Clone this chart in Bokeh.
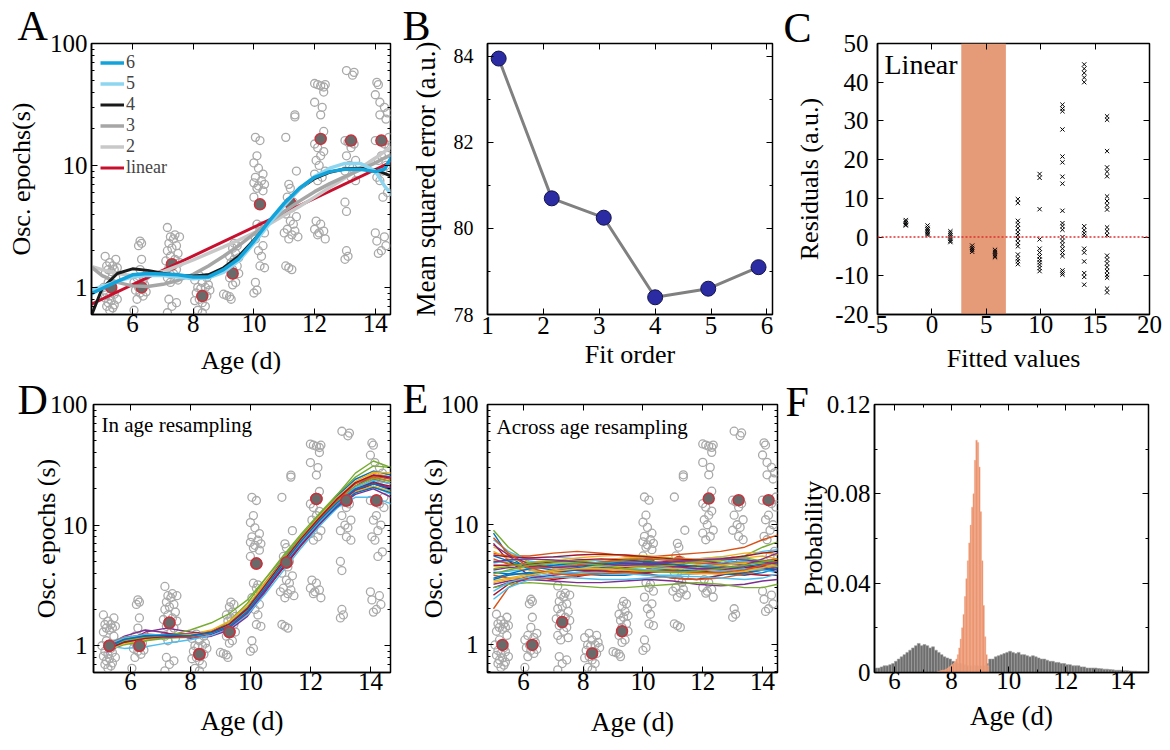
import math
import numpy as np
from bokeh.plotting import figure
from bokeh.models import (Range1d, FixedTicker, LinearAxis, Label, Span, BoxAnnotation,
                          Legend, LegendItem, BasicTickFormatter, CustomJSTickFormatter)
from bokeh.layouts import row, column
from bokeh.embed import file_html
from bokeh.resources import INLINE

FONT = "Liberation Serif"
MATLAB = ["#0072BD", "#D95319", "#EDB120", "#7E2F8E", "#77AC30", "#4DBEEE", "#A2142F"]

# ---------------- shared scatter data (age, oscillation epochs) ----------------
g1_x = [5.1, 5.45, 5.25, 5.35, 5.15, 5.5, 5.2, 5.4, 5.3, 5.1, 5.45, 5.2, 5.05, 5.35, 5.15, 5.4, 5.25, 5.1, 5.5, 5.3, 5.2, 5.4, 5.15, 5.35, 5.25]
g1_y = [1.8, 1.7, 1.6, 1.5, 1.5, 1.45, 1.4, 1.4, 1.35, 1.3, 1.2, 1.1, 1.0, 0.95, 0.9, 0.88, 0.85, 0.82, 0.8, 0.78, 0.75, 0.72, 0.7, 0.68, 0.65]
g2_x = [6.25, 6.3, 6.2, 6.3, 6.25, 6.45, 6.15, 6.35, 6.05, 6.4, 6.2, 6.3, 6.1, 6.45, 6.25, 6.35, 6.15, 6.05]
g2_y = [2.4, 2.3, 2.2, 1.7, 1.4, 1.25, 1.2, 1.15, 1.1, 1.05, 1.0, 0.98, 0.95, 0.92, 0.9, 0.85, 0.8, 0.65]
g3_x = [7.15, 7.4, 7.25, 7.55, 7.35, 7.2, 7.45, 7.3, 7.15, 7.5, 7.25, 7.4, 7.1, 7.55, 7.3, 7.2, 7.45, 7.35, 7.15, 7.5, 7.25, 7.2, 7.45, 7.3, 7.15]
g3_y = [3.1, 2.7, 2.6, 2.6, 2.5, 2.3, 2.2, 2.1, 2.0, 1.9, 1.8, 1.7, 1.65, 1.6, 1.5, 1.45, 1.4, 1.3, 1.2, 1.15, 1.1, 0.8, 0.75, 0.7, 0.62]
g4_x = [8.2, 8.45, 8.05, 8.3, 8.5, 8.15, 8.4, 8.25, 8.55, 8.1, 8.35, 8.45, 8.2, 8.05, 8.3, 8.4, 8.15, 8.3]
g4_y = [1.25, 1.2, 1.15, 1.1, 1.05, 1.0, 1.0, 0.98, 0.95, 0.9, 0.88, 0.85, 0.8, 0.78, 0.75, 0.7, 0.65, 0.62]
g5_x = [9.35, 9.45, 9.3, 9.4, 9.2, 9.5, 9.35, 9.25, 9.45, 9.3, 9.5, 9.2, 9.4, 9.3, 9.0, 9.1, 9.2, 9.25]
g5_y = [2.3, 2.2, 2.1, 1.9, 1.8, 1.75, 1.7, 1.6, 1.5, 1.4, 1.3, 1.2, 1.1, 1.05, 0.88, 0.86, 0.84, 0.8]
g6_x = [10.05, 10.2, 10.1, 10.0, 10.15, 10.3, 10.05, 10.25, 10.0, 10.35, 10.15, 10.1, 10.3, 10.0, 10.1, 10.25, 10.2, 10.35, 10.05, 10.3, 10.15, 10.25, 10.2, 10.35, 10.05, 10.1, 10.0]
g6_y = [17, 16, 12, 10.5, 9.5, 8.5, 8, 7.5, 7.2, 7, 6.8, 6.5, 6.2, 5.5, 3.3, 3.2, 3.0, 2.8, 2.5, 2.2, 2.0, 1.8, 1.5, 1.45, 1.1, 0.95, 0.9]
g7_x = [11.35, 11.35, 11.05, 11.4, 11.15, 11.2, 11.1, 11.3, 11.25, 11.05, 11.4, 11.2, 11.3, 11.1, 11.35, 11.0, 11.25, 11.45, 11.15, 11.05, 11.15, 11.25]
g7_y = [26, 25, 17, 9, 7, 6.5, 5.5, 5.0, 4.5, 4.0, 3.8, 3.5, 3.3, 3.0, 2.9, 2.8, 2.7, 2.6, 2.5, 1.5, 1.45, 1.4]
g8_x = [12.0, 12.1, 12.2, 12.3, 12.35, 12.3, 12.0, 12.25, 12.2, 12.3, 12.0, 12.1, 12.3, 12.2, 12.05, 12.15, 12.35, 12.0, 12.25, 12.1, 12.05, 12.2, 12.0, 12.3, 12.15, 12.1, 12.35]
g8_y = [47, 46, 45, 44, 46, 40, 33, 30, 26, 19, 15, 14, 13, 12, 11, 10, 9, 8.5, 8, 7.5, 3.5, 3.3, 3.0, 2.9, 2.8, 2.7, 2.5]
g9_x = [13.05, 13.3, 13.25, 13.0, 13.1, 13.3, 13.2, 13.05, 13.35, 13.15, 13.25, 13.0, 13.2, 13.35, 13.0, 13.05, 13.05, 13.1, 13.0]
g9_y = [60, 58, 55, 16, 15.5, 15, 14, 12, 11, 10, 9.5, 9, 8, 7.5, 5, 4.2, 2.0, 1.8, 1.7]
g10_x = [14.05, 14.1, 14.0, 14.15, 14.3, 14.4, 14.15, 14.35, 14.45, 14.0, 14.3, 14.45, 14.2, 14.1, 14.35, 14.25, 14.05, 14.15, 14.4, 14.25, 14.0, 14.3, 14.05, 14.35, 14.2, 14.1]
g10_y = [48, 46, 38, 33, 30, 27, 26, 24, 17, 16, 15, 14, 12, 11, 10, 9, 8, 7.5, 6, 5.5, 2.8, 2.6, 2.4, 2.2, 2.0, 1.9]

mean_age = [5.3, 6.3, 7.3, 8.3, 9.3, 10.2, 11.2, 12.2, 13.2, 14.2]
mean_val = [1.0, 1.0, 1.55, 0.85, 1.3, 4.8, 4.9, 16.5, 16.0, 16.0]

pts_x = g1_x + g2_x + g3_x + g4_x + g5_x + g6_x + g7_x + g8_x + g9_x + g10_x
pts_y = g1_y + g2_y + g3_y + g4_y + g5_y + g6_y + g7_y + g8_y + g9_y + g10_y

# ---------------- panel A fits ----------------
fit_x = [4.6, 5.0, 5.5, 6.0, 6.5, 7.0, 7.5, 8.0, 8.5, 9.0, 9.5, 10.0, 10.5, 11.0, 11.5, 12.0, 12.5, 13.0, 13.5, 14.0, 14.3, 14.6]
fit6 = [0.88, 0.98, 1.12, 1.27, 1.30, 1.29, 1.27, 1.22, 1.22, 1.40, 1.72, 2.4, 3.5, 4.9, 6.5, 8.0, 8.9, 9.3, 9.3, 8.9, 9.3, 12.5]
fit5 = [0.95, 1.02, 1.12, 1.22, 1.26, 1.25, 1.22, 1.18, 1.2, 1.33, 1.65, 2.3, 3.3, 4.7, 6.4, 8.1, 9.5, 10.4, 10.4, 9.0, 6.8, 5.5]
fit4 = [0.55, 0.98, 1.30, 1.42, 1.38, 1.31, 1.26, 1.24, 1.27, 1.45, 1.80, 2.45, 3.4, 4.8, 6.4, 7.8, 8.8, 9.4, 9.5, 9.2, 8.6, 8.0]
fit3 = [1.5, 1.25, 1.1, 1.03, 1.02, 1.06, 1.14, 1.28, 1.5, 1.8, 2.2, 2.75, 3.4, 4.2, 5.1, 6.1, 7.1, 8.1, 9.2, 10.5, 11.5, 12.5]
fit2 = [1.5, 1.4, 1.3, 1.25, 1.27, 1.35, 1.5, 1.68, 1.9, 2.15, 2.45, 2.8, 3.3, 3.9, 4.6, 5.5, 6.6, 7.9, 9.5, 11.5, 13.0, 14.5]
lin_x = [4.6, 14.6]
lin_y = [0.72, 10.9]

# ---------------- panel B ----------------
order = [1.2, 2.15, 3.08, 4.0, 4.95, 5.85]
mse = [83.95, 80.7, 80.25, 78.4, 78.6, 79.1]

# ---------------- panel C residuals ----------------
res_groups_x = [-2.4, -0.4, 1.7, 3.7, 5.8, 7.9, 9.9, 12.0, 14.0, 16.1]
res_groups = [
    [4.4, 4.0, 3.6, 3.2, 3.0],
    [3.0, 2.4, 2.0, 1.6, 1.2, 0.8, 0.5],
    [1.5, 1.0, 0.5, 0.0, -0.5, -1.0, -1.3],
    [-2.2, -2.8, -3.3, -3.8],
    [-3.3, -3.8, -4.3, -4.8, -5.2],
    [9.8, 8.8, 4.2, 3.3, 2.3, 1.3, 0.5, -0.5, -1.5, -2.4, -4.5, -5.5, -6.2, -7.0],
    [16.3, 15.3, 7.2, -0.6, -3.0, -4.0, -5.0, -5.8, -6.5, -7.2, -8.0, -8.8],
    [34.2, 33.2, 32.5, 27.8, 20.8, 19.3, 15.6, 13.8, 6.8, 3.6, 2.8, 1.9, 0.0, -1.0, -2.0, -3.0, -4.0, -4.9, -8.6, -9.2, -9.7],
    [44.6, 43.5, 42.4, 41.2, 40.0, 2.8, 1.8, 1.0, 0.3, -3.0, -4.0, -6.3, -9.3, -10.3, -12.3],
    [31.2, 30.3, 22.2, 18.0, 16.9, 15.7, 10.5, 9.3, 8.2, 7.1, 2.5, 1.5, 0.5, -4.8, -5.8, -6.8, -7.8, -8.8, -9.8, -10.5, -13.3, -14.3],
]
band_left, band_right = 2.7, 6.8

# ---------------- panel D in-age resampling fits ----------------
D_x = [5.2, 5.8, 6.5, 7.2, 8.0, 8.7, 9.3, 9.9, 10.5, 11.1, 11.7, 12.3, 12.9, 13.5, 14.1, 14.7]
D_curves = [
    [0.95, 1.10, 1.18, 1.20, 1.20, 1.28, 1.45, 1.95, 3.2, 5.0, 7.6, 11.0, 15.5, 20, 23, 20],
    [0.98, 1.15, 1.25, 1.22, 1.18, 1.25, 1.40, 1.85, 3.0, 4.7, 7.2, 10.5, 15.0, 20, 24, 22],
    [0.92, 1.05, 1.12, 1.17, 1.22, 1.33, 1.55, 2.10, 3.4, 5.3, 8.0, 11.5, 16.5, 22, 27, 25],
    [1.00, 1.20, 1.35, 1.28, 1.15, 1.20, 1.35, 1.75, 2.8, 4.5, 7.0, 10.2, 14.0, 18, 20, 17],
    [0.90, 1.02, 1.10, 1.15, 1.18, 1.30, 1.60, 2.25, 3.6, 5.6, 8.5, 12.5, 18.0, 25, 31, 30],
    [1.05, 1.18, 1.22, 1.20, 1.22, 1.30, 1.50, 2.00, 3.1, 4.8, 7.4, 10.8, 15.0, 19, 21, 18],
    [0.95, 1.12, 1.20, 1.25, 1.25, 1.32, 1.50, 1.90, 2.9, 4.4, 6.8, 10.0, 14.5, 19, 22, 20],
    [0.93, 1.08, 1.15, 1.18, 1.20, 1.28, 1.48, 2.05, 3.3, 5.2, 8.0, 12.0, 17.5, 24, 28, 26],
    [1.02, 1.15, 1.20, 1.18, 1.17, 1.25, 1.45, 1.95, 3.1, 4.9, 7.5, 11.2, 16.0, 21, 25, 23],
    [0.96, 1.10, 1.16, 1.20, 1.24, 1.35, 1.60, 2.15, 3.3, 5.0, 7.6, 10.8, 14.8, 19, 21, 19],
    [0.88, 1.05, 1.30, 1.40, 1.30, 1.25, 1.35, 1.80, 2.9, 4.6, 7.2, 10.8, 15.5, 21, 26, 25],
    [0.95, 1.05, 1.10, 1.20, 1.35, 1.55, 1.85, 2.40, 3.6, 5.4, 8.2, 12.0, 18.0, 27, 34, 30],
    [1.00, 0.95, 0.98, 1.05, 1.12, 1.22, 1.40, 1.80, 2.7, 4.2, 6.5, 9.8, 14.0, 17, 17, 15],
    [0.97, 1.12, 1.22, 1.24, 1.20, 1.26, 1.44, 1.90, 3.0, 4.8, 7.3, 10.6, 15.2, 20, 22.5, 21],
    [0.94, 1.08, 1.14, 1.18, 1.22, 1.30, 1.52, 2.05, 3.2, 4.9, 7.3, 10.4, 14.2, 18.5, 20.5, 18.5],
    [1.03, 1.17, 1.23, 1.21, 1.19, 1.27, 1.47, 1.98, 3.15, 5.0, 7.7, 11.3, 16.2, 22, 25.5, 24],
    [0.91, 1.04, 1.13, 1.19, 1.23, 1.31, 1.50, 2.0, 3.25, 5.1, 7.9, 11.8, 17.0, 23, 27.5, 27],
    [0.99, 1.14, 1.19, 1.19, 1.19, 1.26, 1.42, 1.88, 2.95, 4.6, 7.0, 10.3, 14.8, 19.5, 22, 20.5],
    [0.97, 1.11, 1.17, 1.2, 1.21, 1.29, 1.47, 1.96, 3.1, 4.85, 7.45, 10.9, 15.6, 21, 24.5, 23],
    [1.01, 1.16, 1.24, 1.23, 1.2, 1.27, 1.46, 1.93, 3.05, 4.75, 7.25, 10.6, 15.1, 20.5, 23.5, 22],
    [0.93, 1.07, 1.15, 1.19, 1.21, 1.3, 1.51, 2.02, 3.2, 5.05, 7.8, 11.5, 16.6, 22.5, 26, 24.5],
    [0.96, 1.13, 1.21, 1.22, 1.21, 1.28, 1.45, 1.92, 3.05, 4.8, 7.4, 10.9, 15.4, 20, 22, 19.5],
]

# ---------------- panel E across-age resampling fits ----------------
E_x = [5.0, 5.5, 6.2, 7.0, 7.8, 8.6, 9.4, 10.2, 11.0, 11.8, 12.6, 13.4, 14.0, 14.5]
E_curves = [
    [8.5, 5.5, 4.2, 4.0, 4.2, 4.5, 4.6, 4.5, 4.3, 4.4, 4.8, 5.0, 4.6, 4.0],
    [2.0, 3.0, 3.8, 4.2, 4.3, 4.2, 4.1, 4.2, 4.4, 4.6, 4.5, 4.3, 4.5, 5.0],
    [6.5, 5.8, 5.2, 5.0, 5.0, 5.1, 5.3, 5.4, 5.2, 5.0, 5.0, 5.3, 5.5, 5.2],
    [3.0, 3.3, 3.5, 3.4, 3.3, 3.3, 3.4, 3.5, 3.4, 3.2, 3.1, 3.2, 3.4, 3.5],
    [5.0, 4.8, 4.6, 4.5, 4.6, 4.8, 5.0, 5.0, 4.7, 4.5, 4.6, 4.9, 5.1, 4.8],
    [4.0, 4.1, 4.3, 4.5, 4.7, 4.6, 4.4, 4.2, 4.1, 4.3, 4.7, 5.0, 4.8, 4.4],
    [7.0, 5.0, 3.8, 3.5, 3.7, 4.0, 4.1, 3.9, 3.6, 3.5, 3.8, 4.2, 4.3, 4.0],
    [3.5, 3.8, 4.0, 4.0, 3.9, 3.8, 3.8, 4.0, 4.2, 4.1, 3.9, 3.8, 4.0, 4.3],
    [5.8, 5.5, 5.5, 5.8, 6.0, 5.8, 5.5, 5.4, 5.6, 5.8, 6.0, 6.5, 7.5, 8.2],
    [4.5, 4.4, 4.2, 4.0, 3.9, 4.0, 4.3, 4.6, 4.8, 4.7, 4.4, 4.2, 4.3, 4.5],
    [3.2, 3.4, 3.6, 3.8, 4.0, 4.2, 4.4, 4.6, 4.5, 4.3, 4.2, 4.3, 4.5, 4.6],
    [9.0, 6.5, 4.8, 4.5, 4.6, 4.9, 5.2, 5.3, 5.1, 4.9, 5.0, 5.5, 6.5, 7.2],
    [4.8, 5.0, 5.3, 5.4, 5.2, 5.0, 4.8, 4.7, 4.9, 5.2, 5.4, 5.2, 4.8, 4.5],
    [2.6, 3.2, 3.8, 4.1, 4.2, 4.1, 4.0, 4.0, 4.1, 4.1, 4.0, 3.9, 3.8, 3.8],
    [5.5, 5.0, 4.5, 4.2, 4.2, 4.4, 4.6, 4.7, 4.6, 4.5, 4.6, 4.8, 4.9, 5.0],
    [3.8, 3.6, 3.5, 3.6, 3.8, 4.0, 4.0, 3.8, 3.6, 3.5, 3.6, 3.9, 4.2, 4.5],
    [6.0, 5.2, 4.9, 5.0, 5.3, 5.5, 5.6, 5.5, 5.3, 5.2, 5.4, 5.8, 5.9, 5.6],
    [4.2, 4.4, 4.5, 4.4, 4.3, 4.3, 4.5, 4.8, 5.0, 5.0, 4.8, 4.6, 4.4, 4.2],
    [3.0, 3.2, 3.3, 3.2, 3.1, 3.0, 3.0, 3.1, 3.2, 3.3, 3.2, 3.0, 3.0, 3.2],
    [7.5, 6.0, 5.0, 4.6, 4.4, 4.3, 4.2, 4.2, 4.3, 4.5, 4.8, 5.4, 6.0, 6.2],
    [4.6, 4.6, 4.7, 4.9, 5.1, 5.2, 5.1, 4.9, 4.6, 4.4, 4.3, 4.4, 4.6, 4.9],
    [3.6, 3.9, 4.3, 4.6, 4.8, 4.8, 4.6, 4.4, 4.2, 4.0, 3.9, 4.0, 4.2, 4.4],
    [5.2, 4.7, 4.4, 4.4, 4.6, 4.9, 5.1, 5.2, 5.0, 4.8, 4.7, 4.8, 5.0, 5.2],
    [3.4, 3.6, 3.9, 4.2, 4.4, 4.5, 4.5, 4.4, 4.3, 4.4, 4.6, 4.8, 4.7, 4.5],
    [6.8, 5.6, 4.7, 4.4, 4.5, 4.7, 4.8, 4.7, 4.5, 4.3, 4.3, 4.6, 5.2, 5.8],
    [4.3, 4.5, 4.8, 5.0, 5.0, 4.8, 4.6, 4.5, 4.6, 4.9, 5.2, 5.3, 5.0, 4.6],
    [2.8, 3.3, 3.7, 3.9, 4.0, 4.0, 3.9, 3.8, 3.8, 3.9, 4.1, 4.3, 4.2, 4.0],
    [5.6, 5.4, 5.3, 5.4, 5.6, 5.7, 5.6, 5.4, 5.2, 5.1, 5.2, 5.5, 5.8, 6.0],
    [4.0, 3.9, 3.9, 4.1, 4.4, 4.7, 4.9, 4.9, 4.7, 4.5, 4.4, 4.5, 4.7, 4.8],
    [7.8, 5.8, 4.4, 3.9, 3.8, 3.9, 4.0, 4.1, 4.1, 4.0, 4.0, 4.2, 4.6, 5.0],
    [3.3, 3.5, 3.8, 4.1, 4.3, 4.3, 4.2, 4.1, 4.0, 3.9, 3.9, 4.1, 4.4, 4.7],
    [4.9, 5.1, 5.2, 5.1, 4.9, 4.7, 4.6, 4.7, 4.9, 5.1, 5.2, 5.1, 4.9, 4.7],
    [3.9, 4.2, 4.6, 4.8, 4.8, 4.6, 4.3, 4.1, 4.0, 4.1, 4.3, 4.6, 4.9, 5.1],
    [2.4, 3.0, 3.5, 3.7, 3.6, 3.5, 3.5, 3.6, 3.7, 3.7, 3.6, 3.5, 3.6, 3.9],
]

# ---------------- panel F histograms ----------------
gray_start, gray_width = 5.3, 0.1
gray_prob = [0.002, 0.002, 0.0025, 0.003, 0.003, 0.0035, 0.004,
             0.005, 0.006, 0.007, 0.008, 0.009, 0.010, 0.011, 0.012, 0.013, 0.012,
             0.0125, 0.012, 0.011, 0.0115, 0.010, 0.009, 0.008, 0.007, 0.0065, 0.006,
             0.005, 0.0045, 0.004, 0.004, 0.0035, 0.003, 0.003, 0.003, 0.003, 0.003,
             0.003, 0.003, 0.004, 0.006, 0.006, 0.007, 0.0075, 0.008, 0.0085, 0.009,
             0.0095, 0.009, 0.0085, 0.009, 0.008, 0.008, 0.0075, 0.007, 0.0075, 0.007,
             0.0065, 0.006, 0.006, 0.0055, 0.005, 0.005, 0.0045, 0.0045, 0.004, 0.004,
             0.0035, 0.0035, 0.003, 0.003, 0.003, 0.0025, 0.0025, 0.002, 0.002, 0.002,
             0.002, 0.0018, 0.0017, 0.0015, 0.0015, 0.0013, 0.0012, 0.001, 0.001, 0.001,
             0.0008, 0.0008, 0.0007, 0.0006, 0.0006, 0.0005, 0.0005, 0.0004, 0.0004]
orange_start, orange_width = 7.5, 0.05
orange_prob = [0.0005, 0.0005, 0.0008, 0.001, 0.001, 0.0012, 0.0015, 0.002, 0.0025, 0.003,
               0.0035, 0.004, 0.005, 0.006, 0.008, 0.011, 0.015, 0.02, 0.026, 0.034,
               0.042, 0.05, 0.058, 0.066, 0.074, 0.08, 0.095, 0.104, 0.103, 0.092,
               0.072, 0.05, 0.03, 0.016, 0.008, 0.003]

LOG_MINOR = [0.6, 0.7, 0.8, 0.9, 2, 3, 4, 5, 6, 7, 8, 9, 20, 30, 40, 50, 60, 70, 80, 90]

# ---------------- layout geometry (page pixels) ----------------
PT, PS, PB = 90, 50, 50   # transparent overlap (top, sides, bottom) around each canvas
CELLS = {"A": (0, 0, 390, 380), "B": (390, 0, 390, 380), "C": (780, 0, 390, 380),
         "D": (0, 380, 390, 370), "E": (390, 380, 390, 370), "F": (780, 380, 390, 370)}
PADS = {"A": (PT, PS, PB, PS), "B": (PT, PS, PB, PS), "C": (PT, 0, PB, PS),   # top, right, bottom, left
        "D": (PT, PS, 0, PS), "E": (PT, PS, 0, PS), "F": (PT, 0, 0, PS)}
FRAMES = {"A": (91, 38, 390, 318), "B": (487, 43, 772, 318), "C": (877, 43, 1149, 314),
          "D": (93, 393, 390, 672), "E": (487, 396, 777, 677), "F": (874, 404, 1148, 683)}
# panel letters: (text, page x of left edge, page y of capital top)
LETTERS = {"A": ("A", 17, 12), "B": ("B", 402, 12), "C": ("C", 783, 13),
           "D": ("D", 17, 368), "E": ("E", 402, 367), "F": ("F", 785, 370)}
CAP = 0.3  # offset (in em) from the "top" anchor of a Label to the top of its capitals
GEOM = {}
BLANK = CustomJSTickFormatter(code='return "";')


def base(key, xr, yr, log):
    cx, cy, cw, ch = CELLS[key]
    pt, pr, pb, pl = PADS[key]
    L, T, R, B = FRAMES[key]
    x0, y0 = cx - pl, cy - pt
    W, H = cw + pl + pr, ch + pt + pb
    p = figure(width=W, height=H, x_range=Range1d(*xr), y_range=Range1d(*yr),
               y_axis_type="log" if log else "linear", output_backend="svg",
               toolbar_location=None, min_border_left=L - x0, min_border_right=x0 + W - R,
               min_border_top=T - y0, min_border_bottom=y0 + H - B,
               margin=(-pt, -pr, -pb, -pl))
    p.title.visible = False
    p.xgrid.visible = False
    p.ygrid.visible = False
    p.outline_line_color = "black"
    p.outline_line_width = 1.5
    p.outline_line_alpha = 1.0
    p.border_fill_alpha = 0.0
    GEOM[id(p)] = (FRAMES[key], xr, yr, log)
    return p


def letter_fig(key):
    """A small transparent canvas that takes no layout space and carries the panel letter."""
    text, px, cap_top = LETTERS[key]
    cx, cy = CELLS[key][0], CELLS[key][1]
    w, h, top = 64, 100, cy - 40
    f = figure(width=w, height=h, x_range=Range1d(0, w), y_range=Range1d(h, 0),
               output_backend="svg", toolbar_location=None, min_border=0,
               x_axis_location=None, y_axis_location=None,
               margin=(top - cy, -w, 0, 0))
    f.title.visible = False
    f.xgrid.visible = False
    f.ygrid.visible = False
    f.outline_line_color = None
    f.background_fill_alpha = 0.0
    f.border_fill_alpha = 0.0
    f.add_layout(Label(x=px - cx, y=cap_top - CAP * 42 - top, text=text, text_font=FONT,
                       text_font_size="42px", text_color="black", text_baseline="top",
                       text_align="left"))
    return f


def page_to_data(p, px, py):
    (L, T, R, B), xr, yr, log = GEOM[id(p)]
    x = xr[0] + (px - L) / (R - L) * (xr[1] - xr[0])
    f = (B - py) / (B - T)
    if log:
        y = 10 ** (math.log10(yr[0]) + f * (math.log10(yr[1]) - math.log10(yr[0])))
    else:
        y = yr[0] + f * (yr[1] - yr[0])
    return x, y


def style_axis(ax, major, minor, formatter, tick_size, label_size, tick_standoff, label_standoff):
    ax.ticker = FixedTicker(ticks=major, minor_ticks=minor)
    ax.formatter = formatter
    ax.axis_line_color = "black"
    ax.axis_line_width = 1.5
    ax.major_tick_in = 6
    ax.major_tick_out = 0
    ax.minor_tick_in = 3
    ax.minor_tick_out = 0
    ax.major_tick_line_color = "black"
    ax.minor_tick_line_color = "black"
    ax.major_label_text_font = FONT
    ax.major_label_text_font_size = tick_size
    ax.major_label_text_color = "black"
    ax.axis_label_text_font = FONT
    ax.axis_label_text_font_size = label_size
    ax.axis_label_text_font_style = "normal"
    ax.axis_label_text_color = "black"
    ax.major_label_standoff = tick_standoff
    ax.axis_label_standoff = label_standoff


def mirror(p, xmajor, xminor, ymajor, yminor):
    top = LinearAxis(ticker=FixedTicker(ticks=xmajor, minor_ticks=xminor), formatter=BLANK)
    right = LinearAxis(ticker=FixedTicker(ticks=ymajor, minor_ticks=yminor), formatter=BLANK)
    for ax in (top, right):
        ax.major_label_text_font_size = "1px"
        ax.major_label_standoff = 0
        ax.major_tick_in = 6
        ax.major_tick_out = 0
        ax.minor_tick_in = 3
        ax.minor_tick_out = 0
        ax.axis_line_color = None
        ax.major_tick_line_color = "black"
        ax.minor_tick_line_color = "black"
    p.add_layout(top, "above")
    p.add_layout(right, "right")


def inner_text(p, text, px, cap_top, size):
    x, y = page_to_data(p, px, cap_top - CAP * size)
    p.add_layout(Label(x=x, y=y, text=text, text_font=FONT, text_font_size=f"{size}px",
                       text_color="black", text_baseline="top", text_align="left"))


def scatter_data(p):
    p.scatter(pts_x, pts_y, size=8, fill_color=None, line_color="#A9A9A9", line_width=1.3)
    p.scatter(mean_age, mean_val, size=11, fill_color="#6A6A6A", line_color="#C8323C", line_width=1.5)


def num_fmt():
    return BasicTickFormatter(use_scientific=False)


AGE_T = [6, 8, 10, 12, 14]
LOG_T = [1, 10, 100]

# ---------------- A ----------------
pA = base("A", (4.65, 14.5), (0.6, 100), True)
scatter_data(pA)
rl = pA.line(lin_x, lin_y, line_color="#C8102E", line_width=3)
r2 = pA.line(fit_x, fit2, line_color="#C8C8C8", line_width=3.5)
r3 = pA.line(fit_x, fit3, line_color="#A6A6A6", line_width=3.5)
r4 = pA.line(fit_x, fit4, line_color="#1A1A1A", line_width=3)
r5 = pA.line(fit_x, fit5, line_color="#8ED6F0", line_width=3.5)
r6 = pA.line(fit_x, fit6, line_color="#12A3DB", line_width=3.5)
leg = Legend(items=[LegendItem(label="6", renderers=[r6]), LegendItem(label="5", renderers=[r5]),
                    LegendItem(label="4", renderers=[r4]), LegendItem(label="3", renderers=[r3]),
                    LegendItem(label="2", renderers=[r2]), LegendItem(label="linear", renderers=[rl])],
             location="top_left")
leg.label_text_font = FONT
leg.label_text_font_size = "18px"
leg.glyph_width = 24
leg.glyph_height = 17
leg.label_height = 17
leg.spacing = 0
leg.padding = 4
leg.margin = 5
leg.label_standoff = 2
leg.background_fill_alpha = 0
leg.border_line_alpha = 0
pA.add_layout(leg)
style_axis(pA.xaxis[0], AGE_T, [], num_fmt(), "25px", "26px", 0, 11)
style_axis(pA.yaxis[0], LOG_T, LOG_MINOR, num_fmt(), "25px", "26px", 4, 11)
pA.xaxis[0].axis_label = "Age (d)"
pA.yaxis[0].axis_label = "Osc. epochs(s)"
mirror(pA, AGE_T, [], LOG_T, LOG_MINOR)

# ---------------- B ----------------
pB = base("B", (1.0, 6.1), (78, 84.3), False)
pB.line(order, mse, line_color="#808080", line_width=3)
pB.scatter(order, mse, size=15, fill_color="#2B2BA3", line_color="#14144A", line_width=1)
style_axis(pB.xaxis[0], [1, 2, 3, 4, 5, 6], [], num_fmt(), "25px", "26px", 2, 3)
style_axis(pB.yaxis[0], [78, 80, 82, 84], [79, 81, 83], num_fmt(), "20px", "27px", 14, 10)
pB.xaxis[0].axis_label = "Fit order"
pB.yaxis[0].axis_label = "Mean squared error (a.u.)"
mirror(pB, [1, 2, 3, 4, 5, 6], [], [78, 80, 82, 84], [79, 81, 83])

# ---------------- C ----------------
pC = base("C", (-5, 20), (-20, 50), False)
pC.add_layout(BoxAnnotation(left=band_left, right=band_right, fill_color="#E59A78",
                            fill_alpha=1.0, line_alpha=0, level="underlay"))
pC.add_layout(Span(location=0, dimension="width", line_color="#E03030", line_dash="2 2", line_width=1.5))
res_x = [gx for gx, grp in zip(res_groups_x, res_groups) for _ in grp]
res_y = [v for grp in res_groups for v in grp]
pC.scatter(res_x, res_y, marker="x", size=6, line_color="black", line_width=1)
C_XT = [-5, 0, 5, 10, 15, 20]
C_YT = [-20, -10, 0, 10, 20, 30, 40, 50]
int_fmt = CustomJSTickFormatter(code='return String(Math.round(tick));')
style_axis(pC.xaxis[0], C_XT, [], int_fmt, "25px", "26px", 1, 8)
style_axis(pC.yaxis[0], C_YT, [], int_fmt, "25px", "26px", 9, 8)
pC.xaxis[0].axis_label = "Fitted values"
pC.yaxis[0].axis_label = "Residuals (a.u.)"
mirror(pC, C_XT, [], C_YT, [])
inner_text(pC, "Linear", 884, 57, 28)

# ---------------- D ----------------
pD = base("D", (4.77, 14.67), (0.6, 100), True)
scatter_data(pD)
pD.multi_line([D_x] * len(D_curves), D_curves,
              line_color=[MATLAB[i % 7] for i in range(len(D_curves))], line_width=1.4)
pD.scatter(mean_age, mean_val, size=11, fill_color="#6A6A6A", line_color="#C8323C", line_width=1.5)
style_axis(pD.xaxis[0], AGE_T, [], num_fmt(), "25px", "27px", 0, 13)
style_axis(pD.yaxis[0], LOG_T, LOG_MINOR, num_fmt(), "25px", "26px", 6, -14)
pD.xaxis[0].axis_label = "Age (d)"
pD.yaxis[0].axis_label = "Osc. epochs (s)"
mirror(pD, AGE_T, [], LOG_T, LOG_MINOR)
inner_text(pD, "In age resampling", 101, 408, 21)

# ---------------- E ----------------
pE = base("E", (4.8, 14.5), (0.59, 100), True)
scatter_data(pE)
pE.multi_line([E_x] * len(E_curves), E_curves,
              line_color=[MATLAB[i % 7] for i in range(len(E_curves))], line_width=1.4)
style_axis(pE.xaxis[0], AGE_T, [], num_fmt(), "25px", "27px", 0, 14)
style_axis(pE.yaxis[0], LOG_T, LOG_MINOR, num_fmt(), "25px", "26px", 9, -10)
pE.xaxis[0].axis_label = "Age (d)"
pE.yaxis[0].axis_label = "Osc. epochs (s)"
mirror(pE, AGE_T, [], LOG_T, LOG_MINOR)
inner_text(pE, "Across age resampling", 496, 413, 21)

# ---------------- F ----------------
pF = base("F", (5.3, 14.9), (0, 0.12), False)
gray_x = np.round(gray_start + gray_width * (np.arange(len(gray_prob)) + 0.5), 3)
orange_x = np.round(orange_start + orange_width * (np.arange(len(orange_prob)) + 0.5), 3)
pF.vbar(x=gray_x, width=gray_width, top=gray_prob, bottom=0, fill_color="#6E6E6E",
        line_color="#A0A0A0", line_width=0.6)
pF.vbar(x=orange_x, width=orange_width, top=orange_prob, bottom=0, fill_color="#E8865E",
        line_color="#F3B596", line_width=0.5)
F_YT = [0, 0.04, 0.08, 0.12]
prob_fmt = CustomJSTickFormatter(code='return tick === 0 ? "0" : tick.toFixed(2);')
style_axis(pF.xaxis[0], AGE_T, [7, 9, 11, 13], num_fmt(), "25px", "27px", -1, 9)
style_axis(pF.yaxis[0], F_YT, [0.02, 0.06, 0.10], prob_fmt, "25px", "26px", 4, -4)
pF.xaxis[0].axis_label = "Age (d)"
pF.yaxis[0].axis_label = "Probability"
mirror(pF, AGE_T, [7, 9, 11, 13], F_YT, [0.02, 0.06, 0.10])

layout = column(
    row(letter_fig("A"), pA, letter_fig("B"), pB, letter_fig("C"), pC),
    row(letter_fig("D"), pD, letter_fig("E"), pE, letter_fig("F"), pF),
)
open("out.html", "w").write(file_html(layout, INLINE))
